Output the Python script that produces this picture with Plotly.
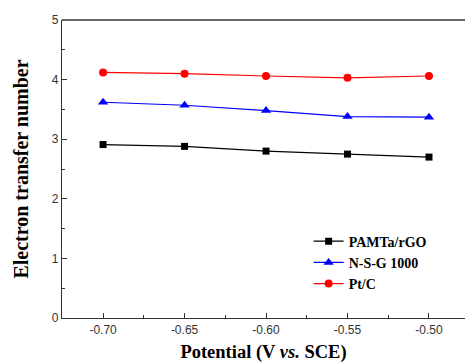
import plotly.graph_objects as go

potential = [-0.70, -0.65, -0.60, -0.55, -0.50]
pamta_rgo = [2.91, 2.88, 2.80, 2.75, 2.70]
nsg_1000 = [3.62, 3.57, 3.48, 3.38, 3.37]
pt_c = [4.12, 4.10, 4.06, 4.03, 4.06]

series = [
    ("<b>PAMTa/rGO</b>", pamta_rgo, "black", "square", 7),
    ("<b>N-S-G 1000</b>", nsg_1000, "#0000ff", "triangle-up", 9),
    ("<b>Pt/C</b>", pt_c, "#ff0000", "circle", 8),
]

fig = go.Figure()
for name, vals, col, sym, sz in series:
    fig.add_trace(go.Scatter(
        x=potential, y=vals, name=name, mode="lines+markers",
        line=dict(color=col, width=1.2),
        marker=dict(symbol=sym, size=sz, color=col),
    ))

axis_common = dict(
    showline=True, linecolor="#333", linewidth=1.2,
    ticks="inside", ticklen=5, tickcolor="#333", tickwidth=1,
    showgrid=False, zeroline=False,
    tickfont=dict(family="Liberation Sans, Arial", size=12, color="#333"),
)

fig.update_layout(
    width=465, height=363,
    margin=dict(l=62, r=0, t=20, b=45),
    paper_bgcolor="white", plot_bgcolor="white",
    showlegend=True,
    legend=dict(
        x=0.612, y=0.31, xanchor="left", yanchor="top",
        bgcolor="rgba(0,0,0,0)", borderwidth=0,
        font=dict(family="Liberation Serif, Times New Roman", size=14, color="black"),
        itemwidth=30, tracegroupgap=0,
    ),
    xaxis=dict(
        range=[-0.7252, -0.4779], tickmode="array",
        tickvals=potential, ticktext=["-0.70", "-0.65", "-0.60", "-0.55", "-0.50"],
        mirror=False,
        minor=dict(ticks="inside", ticklen=3, dtick=0.025, tick0=-0.7, tickcolor="#333"),
        title=dict(text="<b>Potential (V <i>vs.</i> SCE)</b>", standoff=12,
                   font=dict(family="Liberation Serif, Times New Roman", size=18.5, color="black")),
        **axis_common,
    ),
    yaxis=dict(
        range=[0, 5], dtick=1, tick0=0,
        minor=dict(ticks="inside", ticklen=3, dtick=0.5, tickcolor="#333"),
        title=dict(text="<b>Electron transfer number</b>", standoff=17,
                   font=dict(family="Liberation Serif, Times New Roman", size=20, color="black")),
        **axis_common,
    ),
)

# top frame line
fig.add_shape(type="line", xref="paper", yref="paper", x0=0, x1=1, y0=1, y1=1,
              line=dict(color="#333", width=1.5))

fig.write_html("out.html")
